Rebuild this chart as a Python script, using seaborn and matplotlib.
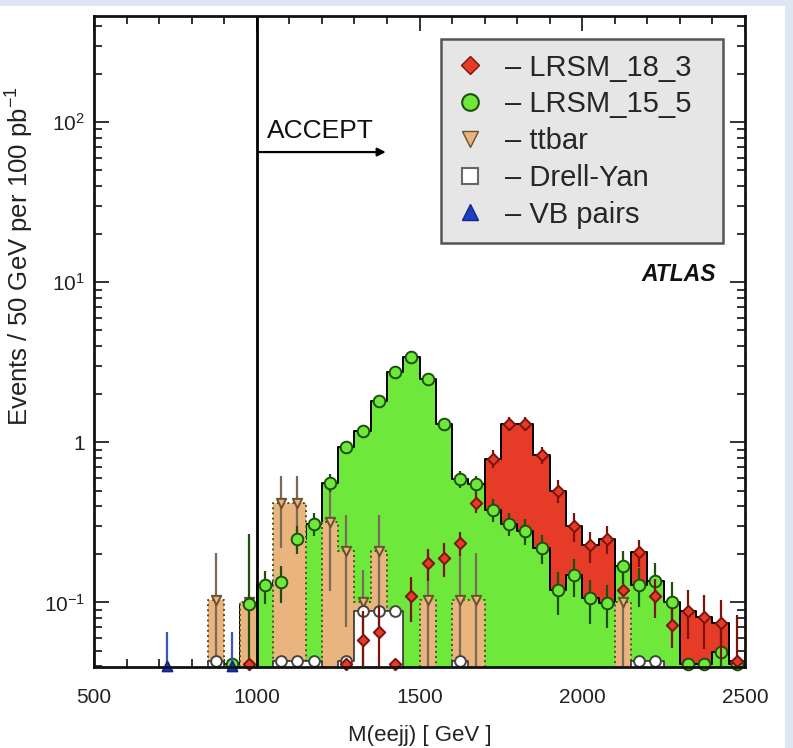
import numpy as np
import pandas as pd
import matplotlib
matplotlib.use("Agg")
import matplotlib.pyplot as plt
from matplotlib.patches import Rectangle
from matplotlib.lines import Line2D
from matplotlib.ticker import MultipleLocator, FixedLocator, FixedFormatter, LogLocator, NullFormatter
import seaborn as sns

# ---------------- data (50 GeV bins, 500 - 2500 GeV) ----------------
bin_edges = list(range(500, 2550, 50))
bin_centers = np.array(bin_edges[:-1]) + 25

lrsm_18_3 = [0, 0, 0, 0, 0, 0, 0, 0, 0, 0.041,
             0, 0, 0, 0, 0, 0.041, 0.058, 0.065, 0.041, 0.11,
             0.176, 0.19, 0.236, 0.42, 0.79, 1.31, 1.31, 0.83, 0.50, 0.30,
             0.227, 0.25, 0.12, 0.206, 0.11, 0.072, 0.089, 0.081, 0.074, 0.043]
lrsm_18_3_err = [0, 0, 0, 0, 0, 0, 0, 0, 0, 0,
                 0, 0, 0, 0, 0, 0, 0.03, 0.03, 0, 0.035,
                 0.04, 0.045, 0.04, 0.06, 0.10, 0.13, 0.13, 0.10, 0.08, 0.06,
                 0.05, 0.05, 0, 0.04, 0.03, 0.02, 0.03, 0.03, 0.03, 0.04]

lrsm_15_5 = [0, 0, 0, 0, 0, 0, 0, 0, 0.041, 0.098,
             0.128, 0.134, 0.25, 0.31, 0.56, 0.93, 1.18, 1.8, 2.75, 3.4,
             2.5, 1.31, 0.59, 0.55, 0.38, 0.31, 0.28, 0.22, 0.119, 0.148,
             0.106, 0.099, 0.17, 0.128, 0.137, 0.10, 0.041, 0.041, 0.049, 0.041]
lrsm_15_5_err = [0, 0, 0, 0, 0, 0, 0, 0, 0, 0.17,
                 0.03, 0.035, 0.05, 0.05, 0.07, 0.09, 0.10, 0.12, 0.15, 0.17,
                 0.15, 0.11, 0.07, 0.07, 0.06, 0.05, 0.05, 0.045, 0.035, 0.04,
                 0.033, 0.03, 0.04, 0.035, 0.04, 0.035, 0, 0, 0.03, 0]

ttbar = [0, 0, 0, 0, 0, 0, 0, 0.103, 0, 0.10,
         0, 0.42, 0.42, 0, 0.317, 0.21, 0.10, 0.21, 0, 0,
         0.103, 0, 0.103, 0.103, 0, 0, 0, 0, 0, 0,
         0, 0, 0.10, 0, 0, 0, 0, 0, 0, 0]
ttbar_err = [0, 0, 0, 0, 0, 0, 0, 0.10, 0, 0,
             0, 0.20, 0.20, 0, 0.20, 0.14, 0.06, 0.14, 0, 0,
             0.10, 0, 0.10, 0.10, 0, 0, 0, 0, 0, 0,
             0, 0, 0.07, 0, 0, 0, 0, 0, 0, 0]

drell_yan = [0, 0, 0, 0, 0, 0, 0, 0.043, 0, 0,
             0, 0.043, 0.043, 0.043, 0, 0.043, 0.089, 0.089, 0.089, 0,
             0, 0, 0.043, 0, 0, 0, 0, 0, 0, 0,
             0, 0, 0, 0.043, 0.043, 0, 0, 0, 0, 0]

vb_pairs = [0, 0, 0, 0, 0.040, 0, 0, 0, 0.040, 0,
            0, 0, 0, 0, 0, 0, 0, 0, 0, 0,
            0, 0, 0, 0, 0, 0, 0, 0, 0, 0,
            0, 0, 0, 0, 0, 0, 0, 0, 0, 0]
vb_pairs_err = [0, 0, 0, 0, 0.025, 0, 0, 0, 0.025, 0,
                0, 0, 0, 0, 0, 0, 0, 0, 0, 0,
                0, 0, 0, 0, 0, 0, 0, 0, 0, 0,
                0, 0, 0, 0, 0, 0, 0, 0, 0, 0]

series_labels = ["LRSM_18_3", "LRSM_15_5", "ttbar", "Drell-Yan", "VB pairs"]
x_ticks = [500, 1000, 1500, 2000, 2500]
y_ticks = [0.1, 1, 10, 100]
y_ticklabels = ["$10^{-1}$", "1", "$10^{1}$", "$10^{2}$"]
cut_value = 1000

df = pd.DataFrame({
    "M": bin_centers,
    "red": lrsm_18_3, "red_err": lrsm_18_3_err,
    "green": lrsm_15_5, "green_err": lrsm_15_5_err,
    "tt": ttbar, "tt_err": ttbar_err,
    "dy": drell_yan,
    "vb": vb_pairs, "vb_err": vb_pairs_err,
})

# ---------------- style ----------------
sns.set_style("ticks")
plt.rcParams["font.family"] = ["Liberation Sans", "DejaVu Sans"]
plt.rcParams["mathtext.default"] = "regular"

RED, RED_E = "#e63b27", "#7a140c"
GREEN, GREEN_E = "#6fe83c", "#1d4f0e"
TAN, TAN_E = "#e9b47e", "#6b5030"
BLUE, BLUE_E = "#1d3fc4", "#14238a"

fig = plt.figure(figsize=(7.93, 7.48), dpi=100, facecolor="#dde7f3")
fig.patches.append(Rectangle((0, 0), 785 / 793, 742 / 748, transform=fig.transFigure,
                             facecolor="white", edgecolor="none", zorder=-10))
ax = fig.add_axes([94 / 793, 1 - 667 / 748, 651 / 793, 651 / 748])
ax.set_facecolor("white")
ax.set_yscale("log")

# ---------------- filled histograms ----------------
sns.histplot(data=df, x="M", weights="red", bins=bin_edges, element="step", fill=True,
             facecolor=RED, edgecolor="black", linewidth=1.4, alpha=1, ax=ax, zorder=1)
sns.histplot(data=df, x="M", weights="green", bins=bin_edges, element="step", fill=True,
             facecolor=GREEN, edgecolor="black", linewidth=1.4, alpha=1, ax=ax, zorder=2)
sns.histplot(data=df, x="M", weights="tt", bins=bin_edges, element="step", fill=True,
             facecolor=TAN, edgecolor="#3e5a1e", linewidth=1.4, linestyle=":", alpha=1,
             ax=ax, zorder=3)
sns.histplot(data=df, x="M", weights="dy", bins=bin_edges, element="step", fill=True,
             facecolor="white", edgecolor="#333333", linewidth=1.2, alpha=1, ax=ax, zorder=4)

# ---------------- error bars and markers ----------------
def draw_points(col, ecol, marker, fc, ec, size, errcol=None, z=6):
    m = df[col] > 0
    sub = df[m]
    if errcol is not None:
        e = sub[errcol].to_numpy()
        y = sub[col].to_numpy()
        lower = np.minimum(e, np.maximum(y - 0.0401, 0))
        ax.errorbar(sub["M"], y, yerr=[lower, e], fmt="none", ecolor=ecol,
                    elinewidth=1.6, capsize=0, zorder=z - 1, clip_on=True)
    sns.scatterplot(x=sub["M"].to_numpy(), y=sub[col].to_numpy(), marker=marker, s=size,
                    color=fc, edgecolor=ec, linewidth=1.4, ax=ax, zorder=z, clip_on=False)

draw_points("tt", "#7a6a58", "v", TAN, TAN_E, 45, "tt_err", z=6)
draw_points("dy", "#555555", "o", "white", "#444444", 60, None, z=7)
draw_points("green", GREEN_E, "o", GREEN, GREEN_E, 70, "green_err", z=8)
draw_points("red", RED_E, "D", RED, RED_E, 34, "red_err", z=9)
draw_points("vb", "#3a55c0", "^", BLUE, BLUE_E, 50, "vb_err", z=9)

# ---------------- cut line, arrow, labels ----------------
ax.axvline(cut_value, color="black", linewidth=2, zorder=10)
ax.annotate("", xy=(1405, 65), xytext=(cut_value, 65),
            arrowprops=dict(arrowstyle="-|>", color="black", lw=1.6, mutation_scale=12),
            zorder=10)
ax.text(1030, 80, "ACCEPT", fontsize=19, color="#111111", va="baseline", ha="left", zorder=10)
ax.text(2411, 11.2, "ATLAS", fontsize=16.5, fontweight="bold", fontstyle="italic",
        ha="right", va="center", color="#111111", zorder=10)

# ---------------- axes ----------------
ax.set_xlim(500, 2500)
ax.set_ylim(0.0395, 460)
ax.xaxis.set_major_locator(FixedLocator(x_ticks))
ax.xaxis.set_minor_locator(MultipleLocator(100))
ax.yaxis.set_major_locator(FixedLocator(y_ticks))
ax.yaxis.set_major_formatter(FixedFormatter(y_ticklabels))
ax.yaxis.set_minor_locator(LogLocator(base=10, subs=np.arange(2, 10), numticks=20))
ax.yaxis.set_minor_formatter(NullFormatter())
ax.tick_params(which="both", direction="in", top=True, right=True, width=1.3, color="#222222")
ax.tick_params(which="major", length=11)
ax.tick_params(which="minor", length=5.5)
ax.tick_params(axis="x", which="major", labelsize=15, pad=15, labelcolor="#222222")
ax.tick_params(axis="y", which="major", labelsize=15, pad=6.5, labelcolor="#222222")
for sp in ax.spines.values():
    sp.set_linewidth(2)
    sp.set_color("#111111")
    sp.set_zorder(12)
ax.set_xlabel("")
ax.set_ylabel("")

fig.text(420 / 793, 1 - 735 / 748, "M(eejj) [ GeV ]", fontsize=16, ha="center", va="center",
         color="#222222")
fig.text(20 / 793, 1 - 256 / 748, "Events / 50 GeV per 100 pb$^{-1}$", fontsize=18.5,
         rotation=90, ha="center", va="center", color="#222222")

# ---------------- legend ----------------
handles = [
    Line2D([], [], linestyle="none", marker="D", markersize=9, markerfacecolor=RED,
           markeredgecolor=RED_E),
    Line2D([], [], linestyle="none", marker="o", markersize=12, markerfacecolor=GREEN,
           markeredgecolor=GREEN_E, markeredgewidth=1.5),
    Line2D([], [], linestyle="none", marker="v", markersize=11, markerfacecolor=TAN,
           markeredgecolor=TAN_E),
    Line2D([], [], linestyle="none", marker="s", markersize=12, markerfacecolor="white",
           markeredgecolor="#666666", markeredgewidth=1.5),
    Line2D([], [], linestyle="none", marker="^", markersize=11, markerfacecolor=BLUE,
           markeredgecolor=BLUE_E),
]
leg = ax.legend(handles, ["\u2013 " + s for s in series_labels], loc="upper left",
                bbox_to_anchor=(0.533, 0.662, 0.433, 0.3027), mode="expand",
                fontsize=21, frameon=True, fancybox=False, shadow=False,
                handlelength=1.0, handletextpad=0.7, labelspacing=0.3, borderpad=0.5,
                borderaxespad=0)
leg.get_frame().set_facecolor("#e6e6e6")
leg.get_frame().set_edgecolor("#555555")
leg.get_frame().set_linewidth(1.8)
leg.get_frame().set_alpha(1)
leg.set_zorder(20)

fig.savefig("out.png", dpi=100, facecolor=fig.get_facecolor())
